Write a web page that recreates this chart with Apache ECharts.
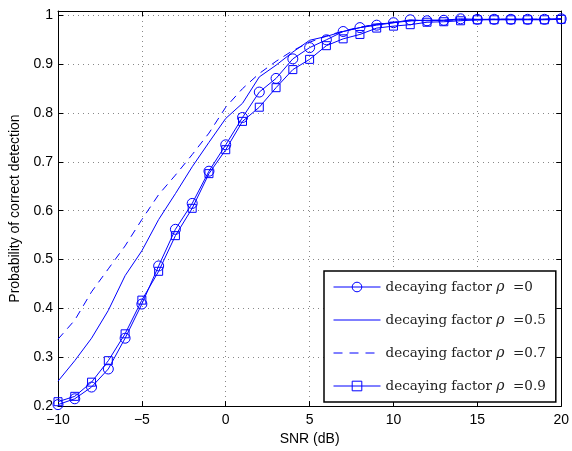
<!DOCTYPE html>
<html>
<head>
<meta charset="utf-8">
<script src="https://cdn.jsdelivr.net/npm/echarts@6/dist/echarts.min.js"></script>
<style>
html,body{margin:0;padding:0;background:#fff;}
#chart{width:572px;height:451px;}
</style>
</head>
<body>
<div id="chart"></div>
<script>
var snr = [-10,-9,-8,-7,-6,-5,-4,-3,-2,-1,0,1,2,3,4,5,6,7,8,9,10,11,12,13,14,15,16,17,18,19,20];
var rho0  = [0.203,0.215,0.239,0.276,0.339,0.409,0.487,0.562,0.615,0.681,0.735,0.791,0.843,0.871,0.911,0.934,0.950,0.967,0.975,0.980,0.985,0.991,0.989,0.990,0.993,0.992,0.992,0.992,0.992,0.992,0.993];
var rho05 = [0.251,0.293,0.339,0.396,0.467,0.518,0.582,0.635,0.690,0.740,0.789,0.820,0.874,0.898,0.925,0.949,0.957,0.967,0.975,0.982,0.985,0.989,0.990,0.990,0.991,0.991,0.992,0.992,0.992,0.992,0.993];
var rho07 = [0.337,0.376,0.434,0.481,0.528,0.582,0.633,0.673,0.715,0.759,0.812,0.850,0.881,0.906,0.928,0.945,0.958,0.968,0.976,0.982,0.986,0.989,0.990,0.990,0.991,0.991,0.992,0.992,0.992,0.992,0.993];
var rho09 = [0.209,0.220,0.249,0.293,0.348,0.417,0.476,0.549,0.605,0.676,0.725,0.783,0.812,0.852,0.889,0.910,0.938,0.952,0.961,0.974,0.978,0.981,0.986,0.987,0.989,0.991,0.991,0.991,0.991,0.991,0.992];
var seriesNames = ['decaying factor \u03C1  =0','decaying factor \u03C1  =0.5','decaying factor \u03C1  =0.7','decaying factor \u03C1  =0.9'];
var xTicks = [-10,-5,0,5,10,15,20];
var yTicks = [0.2,0.3,0.4,0.5,0.6,0.7,0.8,0.9,1];

function pairs(ys){ return snr.map(function(x,i){ return [x, ys[i]]; }); }
var blue = '#0000ff';
var clear = 'rgba(0,0,0,0)';
var tickFont = {fontFamily:'Liberation Sans, Arial, sans-serif', fontSize:14, color:'#000'};
var serif = 'DejaVu Serif, Liberation Serif, serif';
function fmtNum(v){
  var s = (Math.round(v*10)/10).toString();
  return s.replace('-', '\u2212');
}
var chart = echarts.init(document.getElementById('chart'), null, {renderer:'canvas'});
var option = {
  backgroundColor:'#fff',
  animation:false,
  grid:{left:57, right:9, top:11, bottom:42, containLabel:false},
  legend:{
    orient:'vertical', left:324, top:271,
    width:231,
    padding:[9,10,9,9],
    itemWidth:47, itemHeight:12, itemGap:19,
    backgroundColor:'#fff', borderColor:'#000', borderWidth:1.5,
    lineStyle:{width:1},
    formatter:function(name){ return name.replace('\u03C1', '{i|\u03C1}'); },
    textStyle:{fontFamily:serif, fontSize:13.5, color:'#222',
      rich:{i:{fontFamily:serif, fontStyle:'italic', fontSize:14, color:'#222'}}},
    data:[
      {name:seriesNames[0], itemStyle:{color:clear, borderColor:blue, borderWidth:1}},
      {name:seriesNames[1], itemStyle:{color:clear, borderColor:clear, borderWidth:0, opacity:0}},
      {name:seriesNames[2], itemStyle:{color:clear, borderColor:clear, borderWidth:0, opacity:0}, lineStyle:{width:1, type:[9,7]}},
      {name:seriesNames[3], itemStyle:{color:clear, borderColor:blue, borderWidth:1}}
    ]
  },
  xAxis:[{
    type:'value', min:-10, max:20, interval:5, position:'bottom',
    name:'SNR (dB)', nameLocation:'middle', nameGap:25,
    nameTextStyle:{fontFamily:'Liberation Sans, Arial, sans-serif', fontSize:14, color:'#000'},
    axisLine:{show:true, onZero:false, lineStyle:{color:'#000', width:1}},
    axisTick:{show:true, inside:true, length:5, lineStyle:{color:'#000'}},
    axisLabel:Object.assign({margin:7, formatter:function(v){return xTicks.indexOf(v)>=0?fmtNum(v):'';}}, tickFont),
    splitLine:{show:true, lineStyle:{color:'#888', type:[1,4], width:1}}
  },{
    type:'value', min:-10, max:20, interval:5, position:'top',
    axisLine:{show:true, onZero:false, lineStyle:{color:'#000', width:1}},
    axisTick:{show:true, inside:true, length:5, lineStyle:{color:'#000'}},
    axisLabel:{show:false}, splitLine:{show:false}
  }],
  yAxis:[{
    type:'value', min:0.2, max:1.009, interval:0.1, position:'left',
    name:'Probability of correct detection', nameLocation:'middle', nameGap:36,
    nameTextStyle:{fontFamily:'Liberation Sans, Arial, sans-serif', fontSize:14, color:'#000'},
    axisLine:{show:true, onZero:false, lineStyle:{color:'#000', width:1}},
    axisTick:{show:true, inside:true, length:5, lineStyle:{color:'#000'}},
    axisLabel:Object.assign({margin:5, showMaxLabel:false, formatter:function(v){
      for(var i=0;i<yTicks.length;i++){ if(Math.abs(yTicks[i]-v)<1e-6) return fmtNum(v); }
      return '';
    }}, tickFont),
    splitLine:{show:true, lineStyle:{color:'#888', type:[1,4], width:1}}
  },{
    type:'value', min:0.2, max:1.009, interval:0.1, position:'right',
    axisLine:{show:true, onZero:false, lineStyle:{color:'#000', width:1}},
    axisTick:{show:true, inside:true, length:5, lineStyle:{color:'#000'}},
    axisLabel:{show:false}, splitLine:{show:false}
  }],
  series:[
    {name:seriesNames[0], type:'line', data:pairs(rho0), symbol:'circle', symbolSize:10,
     lineStyle:{color:blue, width:1}, itemStyle:{color:clear, borderColor:blue, borderWidth:1}, showAllSymbol:true},
    {name:seriesNames[1], type:'line', data:pairs(rho05), symbol:'none',
     lineStyle:{color:blue, width:1}, itemStyle:{color:blue}},
    {name:seriesNames[2], type:'line', data:pairs(rho07), symbol:'none',
     lineStyle:{color:blue, width:1, type:[8,6]}, itemStyle:{color:blue}},
    {name:seriesNames[3], type:'line', data:pairs(rho09), symbol:'rect', symbolSize:8,
     lineStyle:{color:blue, width:1}, itemStyle:{color:clear, borderColor:blue, borderWidth:1}, showAllSymbol:true}
  ]
};
chart.setOption(option);
</script>
</body>
</html>
